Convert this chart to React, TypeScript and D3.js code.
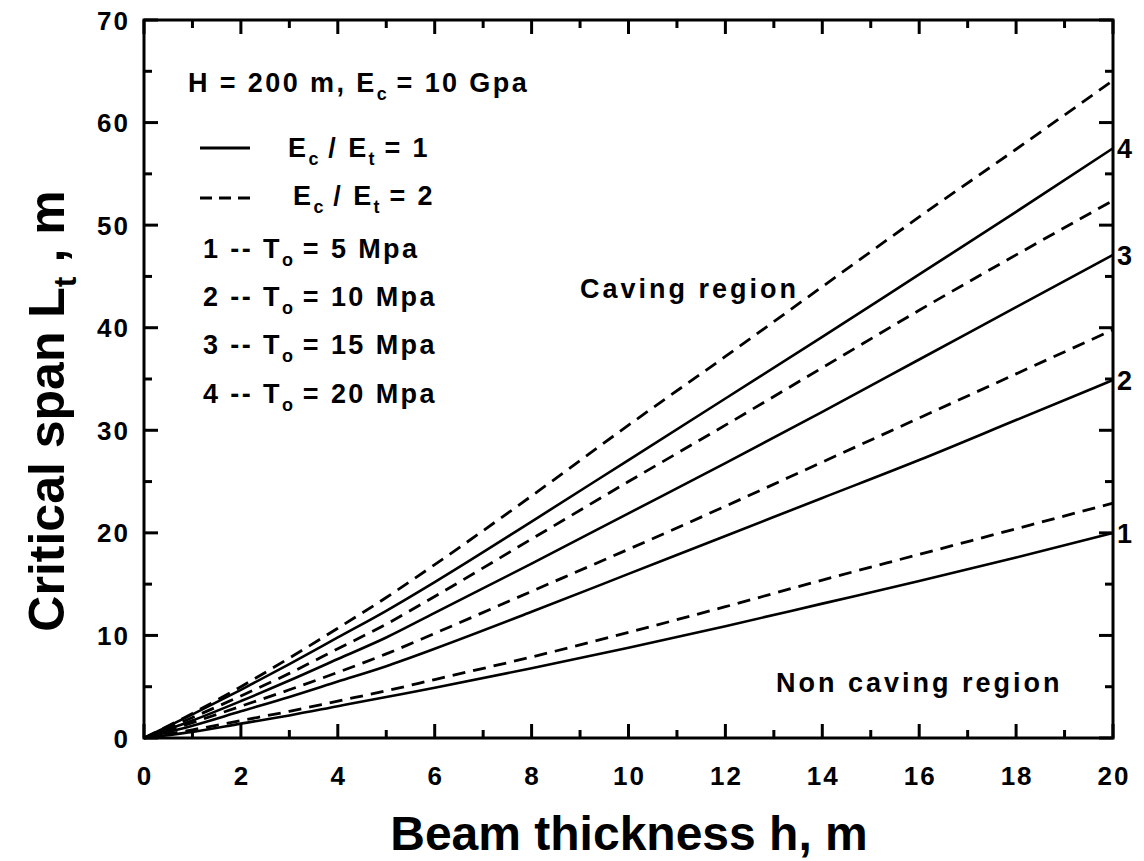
import React from "react";
import * as d3 from "d3";

// Beam thickness h (m)
const thickness = [0, 1, 2, 3, 4, 5, 6, 8, 10, 12, 14, 16, 18, 20];

// Critical span L_t (m) for E_c/E_t = 1 (solid), tensile strength T_o = 5, 10, 15, 20 MPa
const span1_T5 = [0, 0.6, 1.4, 2.2, 3.1, 4.0, 4.9, 6.8, 8.8, 10.9, 13.1, 15.3, 17.6, 20.0];
const span1_T10 = [0, 1.2, 2.6, 4.0, 5.5, 7.0, 8.7, 12.3, 16.0, 19.7, 23.4, 27.1, 31.0, 34.9];
const span1_T15 = [0, 1.7, 3.6, 5.6, 7.7, 9.8, 12.2, 17.0, 21.9, 26.8, 31.8, 36.9, 42.0, 47.1];
const span1_T20 = [0, 2.3, 4.7, 7.2, 9.8, 12.4, 15.2, 21.1, 27.1, 33.1, 39.1, 45.2, 51.3, 57.5];

// Critical span L_t (m) for E_c/E_t = 2 (dashed)
const span2_T5 = [0, 0.8, 1.7, 2.6, 3.6, 4.6, 5.7, 7.9, 10.3, 12.8, 15.4, 17.9, 20.4, 22.9];
const span2_T10 = [0, 1.5, 3.1, 4.7, 6.4, 8.2, 10.2, 14.3, 18.4, 22.6, 26.9, 31.2, 35.5, 39.8];
const span2_T15 = [0, 2.0, 4.1, 6.3, 8.7, 11.1, 13.8, 19.4, 25.0, 30.5, 36.1, 41.7, 47.1, 52.4];
const span2_T20 = [0, 2.4, 5.0, 7.8, 10.7, 13.7, 16.9, 23.6, 30.5, 37.2, 44.0, 50.8, 57.4, 64.1];

const curveNumbers = ["1", "2", "3", "4"];
const strengthLabels = ["5", "10", "15", "20"];
const xTicks = [0, 2, 4, 6, 8, 10, 12, 14, 16, 18, 20];
const xMinorTicks = [1, 3, 5, 7, 9, 11, 13, 15, 17, 19];
const yTicks = [0, 10, 20, 30, 40, 50, 60, 70];
const yMinorTicks = [5, 15, 25, 35, 45, 55, 65];

const solidSeries = [span1_T5, span1_T10, span1_T15, span1_T20];
const dashedSeries = [span2_T5, span2_T10, span2_T15, span2_T20];

const FONT = "'Liberation Sans', Arial, Helvetica, sans-serif";

const left = 144;
const right = 1113;
const top = 20;
const bottom = 738;

export default function App() {
  const x = d3.scaleLinear().domain([0, 20]).range([left, right]);
  const y = d3.scaleLinear().domain([0, 70]).range([bottom, top]);

  const line = d3
    .line<number>()
    .x((_, i) => x(thickness[i]))
    .y((d) => y(d))
    .curve(d3.curveMonotoneX);

  const major = 14;
  const minor = 8;
  const tickStroke = 3;

  const sub = (s: string) => (
    <tspan fontSize={18} dy={8} letterSpacing={0}>
      {s}
    </tspan>
  );

  const fs = 27;
  const ls = 2.4;

  return (
    <svg
      width={1144}
      height={861}
      style={{ position: "absolute", left: 0, top: 0, background: "#fff" }}
      fontFamily={FONT}
      fontWeight="bold"
    >
      <rect x={0} y={0} width={1144} height={861} fill="#fff" />

      {/* curves */}
      {solidSeries.map((s, i) => (
        <path key={"s" + i} d={line(s) || ""} fill="none" stroke="#000" strokeWidth={2.6} />
      ))}
      {dashedSeries.map((s, i) => (
        <path
          key={"d" + i}
          d={line(s) || ""}
          fill="none"
          stroke="#000"
          strokeWidth={2.8}
          strokeDasharray="13,8"
        />
      ))}

      {/* frame */}
      <rect
        x={left}
        y={top}
        width={right - left}
        height={bottom - top}
        fill="none"
        stroke="#000"
        strokeWidth={3}
      />

      {/* x ticks (inward, bottom and top) */}
      {xTicks.map((t) => (
        <g key={"xt" + t}>
          <line x1={x(t)} x2={x(t)} y1={bottom} y2={bottom - major} stroke="#000" strokeWidth={tickStroke} />
          <line x1={x(t)} x2={x(t)} y1={top} y2={top + major} stroke="#000" strokeWidth={tickStroke} />
          <text x={x(t) + 1} y={785} fontSize={26} letterSpacing={2} textAnchor="middle">
            {t}
          </text>
        </g>
      ))}
      {xMinorTicks.map((t) => (
        <g key={"xm" + t}>
          <line x1={x(t)} x2={x(t)} y1={bottom} y2={bottom - minor} stroke="#000" strokeWidth={tickStroke} />
          <line x1={x(t)} x2={x(t)} y1={top} y2={top + minor} stroke="#000" strokeWidth={tickStroke} />
        </g>
      ))}

      {/* y ticks (inward, left and right) */}
      {yTicks.map((t) => (
        <g key={"yt" + t}>
          <line x1={left} x2={left + major} y1={y(t)} y2={y(t)} stroke="#000" strokeWidth={tickStroke} />
          <line x1={right} x2={right - major} y1={y(t)} y2={y(t)} stroke="#000" strokeWidth={tickStroke} />
          <text x={130} y={y(t) + 9.5} fontSize={26} letterSpacing={2} textAnchor="end">
            {t}
          </text>
        </g>
      ))}
      {yMinorTicks.map((t) => (
        <g key={"ym" + t}>
          <line x1={left} x2={left + minor} y1={y(t)} y2={y(t)} stroke="#000" strokeWidth={tickStroke} />
          <line x1={right} x2={right - minor} y1={y(t)} y2={y(t)} stroke="#000" strokeWidth={tickStroke} />
        </g>
      ))}

      {/* curve numbers at the right end */}
      {solidSeries.map((s, i) => (
        <text key={"n" + i} x={1117} y={y(s[s.length - 1]) + 10} fontSize={fs}>
          {curveNumbers[i]}
        </text>
      ))}

      {/* axis titles */}
      <text x={629} y={850} fontSize={48} textAnchor="middle">
        Beam thickness h, m
      </text>
      <text transform={`translate(64, 411) rotate(-90)`} fontSize={50} textAnchor="middle">
        Critical span L
        <tspan fontSize={32} dy={12}>t</tspan>
        <tspan dy={-12}> , m</tspan>
      </text>

      {/* legend */}
      <g fontSize={fs} letterSpacing={ls}>
        <text x={188} y={92}>
          H = 200 m, E{sub("c")}
          <tspan dy={-8}> = 10 Gpa</tspan>
        </text>
        <line x1={200} x2={250} y1={148} y2={148} stroke="#000" strokeWidth={2.8} />
        <text x={288} y={157}>
          E{sub("c")}
          <tspan dy={-8}> / E</tspan>
          {sub("t")}
          <tspan dy={-8}> = 1</tspan>
        </text>
        <line x1={200} x2={250} y1={198} y2={198} stroke="#000" strokeWidth={2.8} strokeDasharray="12,7" />
        <text x={293} y={205}>
          E{sub("c")}
          <tspan dy={-8}> / E</tspan>
          {sub("t")}
          <tspan dy={-8}> = 2</tspan>
        </text>
        {strengthLabels.map((v, i) => (
          <text key={"lg" + i} x={203} y={258 + i * 48.2}>
            {curveNumbers[i]} -- T{sub("o")}
            <tspan dy={-8}> = {v} Mpa</tspan>
          </text>
        ))}
      </g>

      {/* region labels */}
      <text x={580} y={298} fontSize={fs} letterSpacing={3}>
        Caving region
      </text>
      <text x={776} y={692} fontSize={fs} letterSpacing={3}>
        Non caving region
      </text>
    </svg>
  );
}
